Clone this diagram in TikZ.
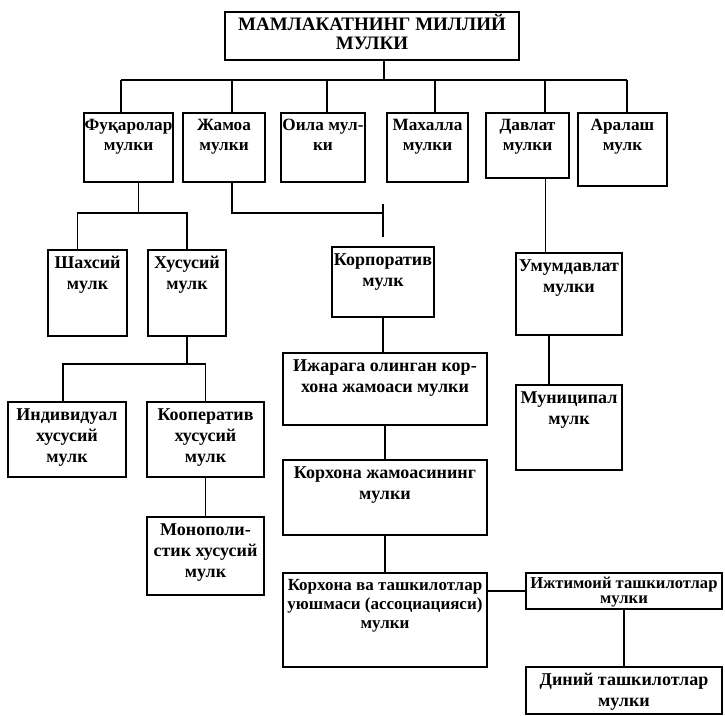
\documentclass[tikz,border=0pt]{standalone}
\usepackage{fontspec}
\setmainfont{Liberation Serif}
\usetikzlibrary{fit}

\tikzset{
  box/.style={draw,line width=1pt,inner sep=0pt},
  txt/.style={align=center,inner sep=0pt,anchor=north,font=\bfseries\fontsize{9}{10.5}\selectfont},
  toptxt/.style={txt,font=\bfseries\fontsize{8.6}{10}\selectfont},
  link/.style={line width=0.75pt}
}

\begin{document}
\begin{tikzpicture}[x=0.5pt,y=-0.5pt]
\useasboundingbox (0,0) rectangle (725,716);

\node[box,fit={(225,12) (519,60)}] (title) {};
\node[txt,font=\bfseries\fontsize{9.5}{9.5}\selectfont] at ([yshift=-1.5pt]title.north) {МАМЛАКАТНИНГ МИЛЛИЙ\\МУЛКИ};

\node[box,fit={(84,113) (173,182)}] (fuq) {};
\node[box,fit={(183,113) (265,182)}] (jam) {};
\node[box,fit={(281,113) (365,182)}] (oila) {};
\node[box,fit={(387,113) (468,182)}] (mah) {};
\node[box,fit={(486,113) (569,178)}] (dav) {};
\node[box,fit={(578,113) (667,186)}] (aral) {};
\node[toptxt] at ([yshift=-3.5pt]fuq.north) {Фуқаролар\\мулки};
\node[toptxt] at ([yshift=-3.5pt]jam.north) {Жамоа\\мулки};
\node[toptxt] at ([yshift=-3.5pt]oila.north) {Оила мул-\\ки};
\node[toptxt] at ([yshift=-3.5pt]mah.north) {Махалла\\мулки};
\node[toptxt] at ([yshift=-3.5pt]dav.north) {Давлат\\мулки};
\node[toptxt] at ([yshift=-3.5pt]aral.north) {Аралаш\\мулк};

\node[box,fit={(48,250) (127,336)}] (shax) {};
\node[box,fit={(148,250) (226,336)}] (xus) {};
\node[box,fit={(332,247) (434,317)}] (korp) {};
\node[box,fit={(516,253) (622,335)}] (umum) {};
\node[txt] at ([yshift=-3.5pt]shax.north) {Шахсий\\мулк};
\node[txt] at ([yshift=-3.5pt]xus.north) {Хусусий\\мулк};
\node[txt] at ([yshift=-3.5pt]korp.north) {Корпоратив\\мулк};
\node[txt] at ([yshift=-3.5pt]umum.north) {Умумдавлат\\мулки};

\node[box,fit={(283,353) (487,425)}] (ijar) {};
\node[box,fit={(516,385) (622,470)}] (mun) {};
\node[box,fit={(8,402) (126,477)}] (indiv) {};
\node[box,fit={(147,402) (264,477)}] (koop) {};
\node[box,fit={(283,460) (487,535)}] (korx) {};
\node[box,fit={(147,517) (264,595)}] (mono) {};
\node[txt] at ([yshift=-3.5pt]ijar.north) {Ижарага олинган кор-\\хона жамоаси мулки};
\node[txt] at ([yshift=-3.5pt]mun.north) {Муниципал\\мулк};
\node[txt] at ([yshift=-3.5pt]indiv.north) {Индивидуал\\хусусий\\мулк};
\node[txt] at ([yshift=-3.5pt]koop.north) {Кооператив\\хусусий\\мулк};
\node[txt] at ([yshift=-3.5pt]korx.north) {Корхона жамоасининг\\мулки};
\node[txt] at ([yshift=-3.5pt]mono.north) {Монополи-\\стик хусусий\\мулк};

\node[box,fit={(283,573) (487,667)}] (assoc) {};
\node[box,fit={(526,573) (722,609)}] (ijt) {};
\node[box,fit={(526,667) (722,714)}] (din) {};
\node[txt,font=\bfseries\fontsize{8.5}{9.5}\selectfont] at ([yshift=-3.5pt]assoc.north) {Корхона ва ташкилотлар\\уюшмаси (ассоциацияси)\\мулки};
\node[txt,font=\bfseries\fontsize{8.3}{7.5}\selectfont] at ([yshift=-2.5pt]ijt.north) {Ижтимоий ташкилотлар\\мулки};
\node[txt] at ([yshift=-3.5pt]din.north) {Диний ташкилотлар\\мулки};

\coordinate (bar) at (0,80);
\coordinate (fork1) at (0,213);
\coordinate (fork2) at (0,364);

\draw[link] ([xshift=6pt]title.south) -- ([xshift=6pt]title.south |- bar);
\draw[link] (121,80) -- (627,80);
\foreach \n/\x in {fuq/121,jam/232,oila/327,mah/435,dav/545,aral/627}
  \draw[link] (\n.north -| \x,0) -- (\x,80);

\draw[link] ([xshift=5pt]fuq.south) -- ([xshift=5pt]fuq.south |- fork1);
\draw[link] ([xshift=-5pt]shax.north) |- (xus.north |- fork1) -- (xus.north);
\draw[link] ([xshift=4pt]jam.south) |- (korp.north |- fork1) coordinate (kt);
\draw[link] ([yshift=4.5pt]kt) -- ([yshift=-12pt]kt);
\draw[link] ([xshift=9pt]dav.south) -- ([xshift=9pt]dav.south |- umum.north);
\draw[link] ([xshift=-10pt]umum.south) -- ([xshift=-10pt]mun.north);

\draw[link] (korp.south) -- (korp.south |- ijar.north);
\draw[link] (ijar.south) -- (korx.north);
\draw[link] (korx.south) -- (assoc.north);
\draw[link] (ijt.west) -- (ijt.west -| assoc.east);
\draw[link] (ijt.south) -- (din.north);

\draw[link] (xus.south) -- (xus.south |- fork2);
\draw[link] ([xshift=-2pt]indiv.north) |- (koop.north |- fork2) -- (koop.north);
\draw[link] (koop.south) -- (mono.north);

\end{tikzpicture}
\end{document}
